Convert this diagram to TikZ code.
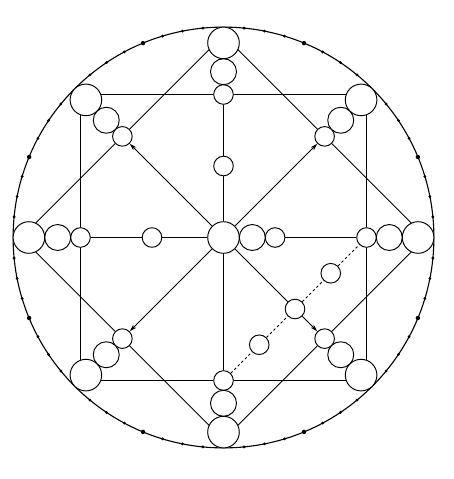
\documentclass[tikz,border=0pt]{standalone}
\usetikzlibrary{calc,arrows.meta,backgrounds}
\begin{document}
\begin{tikzpicture}[x=1pt,y=-1pt,
  edge/.style={line width=0.95pt},
  ring/.style={circle,draw,fill=white,line width=0.95pt,inner sep=0pt},
  bigc/.style={ring,minimum size=31.6pt},
  medc/.style={ring,minimum size=26pt},
  smc/.style={ring,minimum size=19.6pt},
  arr/.style={edge,-{Stealth[length=7pt,width=4pt,inset=1.5pt]}},
  dashedge/.style={edge,dash pattern=on 2.5pt off 2.5pt}]
\useasboundingbox (0,0) rectangle (453,479);
\coordinate (C) at (223.5,237.5);
% radial chains (big / medium / small) in 8 directions
\foreach \n/\a in {E/0,SE/45,S/90,SW/135,W/180,NW/225,N/270,NE/315} {
  \node[smc]  (s\n) at ($(C)+(\a:143)$) {};
  \node[medc] (m\n) at ($(C)+(\a:165.8)$) {};
  \node[bigc] (b\n) at ($(C)+(\a:194.6)$) {};
}
% centre cluster
\node[bigc] (c0) at (C) {};
\node[medc] (c1) at ($(C)+(28.8,0)$) {};
\node[smc]  (c2) at ($(C)+(51.6,0)$) {};
% half-way circles
\node[smc] (hN) at ($(C)+(0,-71.5)$) {};
\node[smc] (hW) at ($(C)+(-71.5,0)$) {};
% circles on the dashed line
\node[smc] (d1) at ($(sS)!0.25!(sE)$) {};
\node[smc] (d2) at ($(sS)!0.5!(sE)$) {};
\node[smc] (d3) at ($(sS)!0.75!(sE)$) {};
% corners of square and diamond
\coordinate (qNW) at ($(C)+(-143,-143)$);
\coordinate (qNE) at ($(C)+(143,-143)$);
\coordinate (qSE) at ($(C)+(143,143)$);
\coordinate (qSW) at ($(C)+(-143,143)$);
\coordinate (kN) at ($(C)+(0,-202.2)$);
\coordinate (kE) at ($(C)+(202.2,0)$);
\coordinate (kS) at ($(C)+(0,202.2)$);
\coordinate (kW) at ($(C)+(-202.2,0)$);
\begin{scope}[on background layer]
  \draw[line width=1.1pt] (C) circle (210.4);
  \foreach \j in {0,...,7} {
    \foreach \k in {1,2,3,5,6,7} {
      \fill ($(C)+(\j*45+\k*5.625:210.4)$) circle (1.55);
    }
    \fill ($(C)+(\j*45+22.5:210.4)$) circle (2.2);
  }
  \draw[edge] (qNW) -- (sN) -- (qNE) -- (sE) -- (qSE) -- (sS) -- (qSW) -- (sW) -- (qNW);
  \draw[edge] (kN) -- (sNE) -- (kE) -- (sSE) -- (kS) -- (sSW) -- (kW) -- (sNW) -- (kN);
  \draw[edge] (c0) -- (hN) -- (sN);
  \draw[edge] (c0) -- (hW) -- (sW);
  \draw[edge] (c2) -- (sE);
  \draw[edge] (c0) -- (sS);
  \draw[arr] (c0) -- (sNW);
  \draw[arr] (c0) -- (sNE);
  \draw[arr] (c0) -- (sSW);
  \draw[edge] (c0) -- (d2);
  \draw[arr] (d2) -- (sSE);
  \draw[dashedge] (sS) -- (d1) -- (d2) -- (d3) -- (sE);
\end{scope}
\end{tikzpicture}
\end{document}
